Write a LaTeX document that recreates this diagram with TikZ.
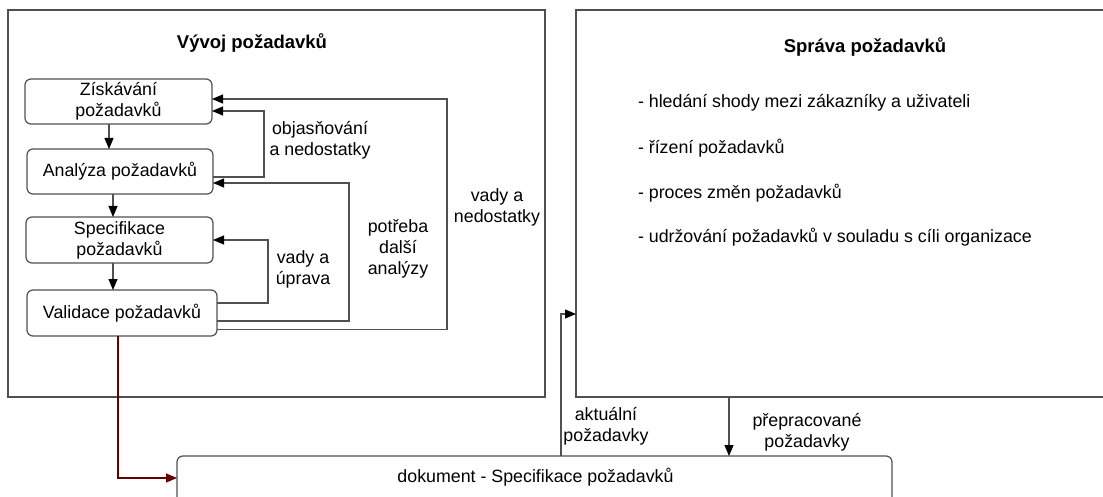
\documentclass[tikz,border=0pt]{standalone}
\usepackage{fontspec}
\setmainfont{Liberation Sans}
\usetikzlibrary{arrows.meta}
\definecolor{linecol}{RGB}{80,80,80}
\definecolor{redcol}{RGB}{100,0,0}
\begin{document}
\begin{tikzpicture}[x=1pt,y=-1pt,
  every node/.style={font=\fontsize{17.8}{21}\selectfont, inner sep=0pt, outer sep=0pt},
  bigbox/.style={draw=linecol, line width=1.2pt, anchor=north west},
  boxst/.style={draw=linecol, line width=1.2pt, rounded corners=6pt, align=center, minimum height=45pt},
  ttl/.style={font=\fontsize{18.5}{22}\selectfont\bfseries},
  lbl/.style={align=center},
  bul/.style={anchor=west},
  arr/.style={draw=linecol, line width=1.2pt, -{Triangle[length=11pt,width=9pt,color=black]}},
  redarr/.style={draw=redcol, line width=1.2pt, -{Triangle[length=11pt,width=9pt,color=redcol]}}
]
\useasboundingbox (0,0) rectangle (1103,497);
\fill[white] (0,0) rectangle (1103,497);

% big boxes
\node[bigbox, minimum width=537pt, minimum height=387pt] (L) at (8,10) {};
\node[bigbox, minimum width=560pt, minimum height=387pt] (R) at (576,10) {};
\node[bigbox, rounded corners=6pt, minimum width=715pt, minimum height=90pt] (D) at (177,456) {};
\node (Dt) at (535.5,477) {dokument - Specifikace požadavků};

% titles
\node[ttl] (T1) at (252,43) {Vývoj požadavků};
\node[ttl] (T2) at (865,47) {Správa požadavků};

% bullets
\node[bul] (b1) at (638,103) {- hledání shody mezi zákazníky a uživateli};
\node[bul] (b2) at (638,148) {- řízení požadavků};
\node[bul] (b3) at (638,193) {- proces změn požadavků};
\node[bul] (b4) at (638,237) {- udržování požadavků v souladu s cíli organizace};

% inner boxes
\node[boxst, minimum width=187pt] (Z) at (118.5,101.5) {Získávání\\požadavků};
\node[boxst, minimum width=186pt] (A) at (120,171.5) {Analýza požadavků};
\node[boxst, minimum width=187pt, minimum height=46pt] (S) at (119.5,240) {Specifikace\\požadavků};
\node[boxst, minimum width=190pt, minimum height=46pt] (V) at (122,313) {Validace požadavků};

% vertical flow
\draw[arr] ([xshift=-9.5pt]Z.south) -- ([xshift=-11pt]A.north);
\draw[arr] ([xshift=-7pt]A.south) -- ([xshift=-6.5pt]S.north);
\draw[arr] ([xshift=-6.5pt]S.south) -- ([xshift=-9pt]V.north);

% feedback loops
\draw[arr] ([yshift=-5.5pt]A.east) -| (264,111) -- ([yshift=-9.5pt]Z.east);
\draw[arr] ([yshift=10pt]V.east) -| (268,240) -- (S.east);
\draw[arr] ([yshift=-8pt]V.east) -| (349,183) -- ([yshift=-11.5pt]A.east);
\draw[arr] ([yshift=-16.5pt]V.east) -| (447,99) -- ([yshift=2.5pt]Z.east);

% loop labels
\node[lbl] (l1) at (320,140) {objasňování\\a nedostatky};
\node[lbl] (l2) at (303,269.5) {vady a\\úprava};
\node[lbl] (l3) at (398,249) {potřeba\\další\\analýzy};
\node[lbl] (l4) at (497,207.5) {vady a\\nedostatky};

% connections to bottom document
\draw[redarr] ([xshift=-4pt]V.south) |- ([yshift=-22pt]D.north west);
\draw[arr] ([xshift=384pt]D.north west) |- ([yshift=-110.5pt]R.west);
\draw[arr] ([xshift=153pt]R.south west) -- ([xshift=552pt]D.north west);

\node[lbl] (l5) at (606,426) {aktuální\\požadavky};
\node[lbl] (l6) at (807,432.5) {přepracované\\požadavky};
\end{tikzpicture}
\end{document}
